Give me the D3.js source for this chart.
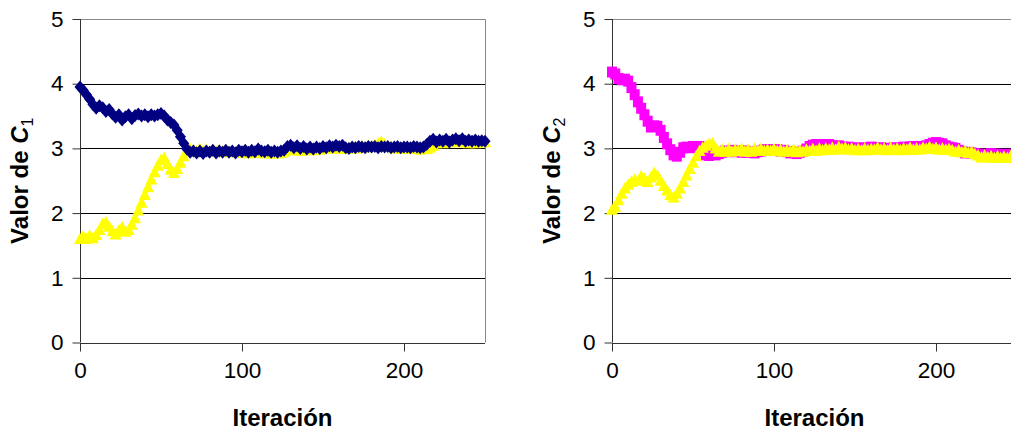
<!DOCTYPE html>
<html>
<head>
<meta charset="utf-8">
<script src="https://cdn.jsdelivr.net/npm/d3@7"></script>
<style>
  body { margin: 0; background: #fff; }
  text { font-family: "Liberation Sans", Arial, sans-serif; }
</style>
</head>
<body>
<div id="graph"></div>
<script>
var width = 1011, height = 430;

// iteraciones (cada 2)
var iters = d3.range(0, 251, 2);
var yTicks = [0, 1, 2, 3, 4, 5];
var xTicks = [0, 100, 200];

// C1 - azul (rombos)
var c1Azul = [
  3.95, 3.90, 3.83, 3.76, 3.68, 3.62, 3.66, 3.63, 3.57, 3.60,
  3.53, 3.48, 3.52, 3.44, 3.49, 3.52, 3.46, 3.51, 3.53, 3.50,
  3.52, 3.49, 3.52, 3.50, 3.52, 3.54, 3.50, 3.44, 3.40, 3.36,
  3.28, 3.18, 3.08, 2.99, 2.94, 2.96, 2.93, 2.96, 2.92, 2.96,
  2.94, 2.97, 2.93, 2.96, 2.94, 2.97, 2.94, 2.96, 2.93, 2.97,
  2.95, 2.97, 2.94, 2.97, 2.95, 2.99, 2.96, 2.95, 2.97, 2.94,
  2.96, 2.94, 2.96, 2.97, 3.03, 3.05, 3.01, 3.04, 3.00, 3.03,
  2.99, 3.02, 2.99, 3.02, 3.00, 3.03, 3.01, 3.04, 3.02, 3.05,
  3.03, 3.05, 3.01, 3.00, 3.02, 3.01, 3.03, 3.02, 3.01, 3.03,
  3.02, 3.03, 3.01, 3.03, 3.02, 3.03, 3.01, 3.02, 3.03, 3.01,
  3.02, 3.02, 3.01, 3.03, 3.02, 3.01, 3.02, 3.06, 3.11, 3.14,
  3.10, 3.13, 3.11, 3.14, 3.10, 3.13, 3.15, 3.12, 3.15, 3.11,
  3.13, 3.11, 3.13, 3.11, 3.12, 3.11
];
// C1 - amarillo (triangulos)
var c1Amarillo = [
  1.60, 1.64, 1.60, 1.65, 1.61, 1.66, 1.74, 1.83, 1.86, 1.79,
  1.72, 1.67, 1.73, 1.78, 1.71, 1.74, 1.82, 1.92, 2.04, 2.16,
  2.28, 2.40, 2.52, 2.63, 2.73, 2.82, 2.85, 2.76, 2.67, 2.62,
  2.68, 2.78, 2.88, 2.95, 2.99, 2.97, 2.95, 2.99, 2.96, 2.98,
  2.95, 2.98, 2.95, 2.97, 2.95, 2.97, 2.94, 2.96, 2.94, 2.96,
  2.93, 2.95, 2.92, 2.95, 2.93, 2.96, 2.93, 2.92, 2.94, 2.92,
  2.94, 2.92, 2.93, 2.95, 2.98, 3.00, 2.97, 2.99, 2.96, 2.99,
  2.97, 3.00, 2.97, 2.99, 2.98, 3.01, 2.99, 3.01, 2.99, 3.02,
  3.00, 3.02, 2.99, 3.01, 3.00, 3.02, 3.00, 3.03, 3.01, 3.04,
  3.02, 3.05, 3.07, 3.10, 3.06, 3.03, 3.02, 3.00, 3.01, 2.99,
  3.00, 2.99, 3.01, 2.99, 3.00, 2.98, 3.00, 2.99, 3.01, 3.04,
  3.08, 3.10, 3.08, 3.11, 3.09, 3.12, 3.10, 3.12, 3.09, 3.11,
  3.08, 3.10, 3.08, 3.11, 3.09, 3.10
];
// C2 - magenta (cuadrados)
var c2Magenta = [
  4.18, 4.15, 4.08, 4.06, 4.07, 4.04, 3.94, 3.83, 3.72, 3.62,
  3.52, 3.42, 3.33, 3.35, 3.34, 3.28, 3.17, 3.07, 2.98, 2.90,
  2.88, 2.94, 3.01, 3.02, 3.01, 3.03, 3.02, 3.03, 2.96, 2.90,
  2.89, 2.91, 2.90, 2.92, 2.94, 2.96, 2.95, 2.97, 2.95, 2.96,
  2.94, 2.96, 2.94, 2.95, 2.93, 2.95, 2.96, 2.98, 2.97, 2.98,
  2.97, 2.98, 2.96, 2.97, 2.95, 2.93, 2.94, 2.92, 2.94, 2.96,
  2.99, 3.03, 3.05, 3.06, 3.05, 3.06, 3.05, 3.06, 3.04, 3.03,
  3.04, 3.02, 3.01, 3.02, 3.00, 3.01, 3.00, 2.99, 3.01, 3.00,
  3.02, 3.01, 3.00, 3.01, 3.00, 2.99, 3.00, 3.01, 3.00, 3.01,
  3.02, 3.01, 3.02, 3.03, 3.02, 3.03, 3.02, 3.04, 3.06, 3.08,
  3.09, 3.08, 3.07, 3.04, 3.02, 3.01, 3.00, 2.97, 2.95, 2.93,
  2.94, 2.93, 2.92, 2.91, 2.90, 2.91, 2.90, 2.92, 2.91, 2.90,
  2.91, 2.89, 2.90, 2.91, 2.90, 2.91
];
// C2 - amarillo (triangulos)
var c2Amarillo = [
  2.05, 2.10, 2.20, 2.30, 2.38, 2.44, 2.48, 2.52, 2.50, 2.57,
  2.53, 2.48, 2.55, 2.62, 2.58, 2.50, 2.42, 2.35, 2.28, 2.24,
  2.30, 2.38, 2.48, 2.58, 2.68, 2.78, 2.88, 2.96, 3.01, 3.04,
  3.07, 3.08, 3.00, 2.95, 2.98, 2.95, 2.99, 2.95, 2.98, 2.96,
  2.99, 2.95, 2.98, 2.95, 2.99, 2.96, 2.99, 2.96, 2.98, 2.96,
  2.99, 2.96, 2.98, 2.95, 2.97, 2.95, 2.98, 2.94, 2.97, 2.95,
  2.98, 2.96, 2.99, 2.96, 3.00, 2.97, 3.00, 2.98, 3.01, 2.98,
  3.02, 2.99, 3.01, 2.98, 3.00, 2.97, 2.99, 2.97, 3.00, 2.97,
  2.99, 2.98, 3.01, 2.98, 3.00, 2.97, 3.01, 2.98, 3.00, 2.97,
  3.00, 2.98, 3.01, 2.98, 3.00, 2.98, 3.01, 2.99, 3.02, 2.99,
  3.01, 2.98, 3.00, 2.98, 2.99, 2.97, 2.95, 2.97, 2.94, 2.96,
  2.93, 2.95, 2.91, 2.89, 2.86, 2.89, 2.86, 2.88, 2.85, 2.88,
  2.85, 2.87, 2.85, 2.88, 2.85, 2.87
];

var diamond = "M0,-6.5L5.5,0L0,6.5L-5.5,0Z";
var triangle = "M0,-6.5L6,5L-6,5Z";
var square = "M-5,-5.5H5V5.5H-5Z";

var svg = d3.select('#graph').append('svg')
    .attr('width', width)
    .attr('height', height);

var panels = [
  { left: 80, sub: "1", series: [
      { vals: c1Amarillo, color: "#ffff00", shape: triangle },
      { vals: c1Azul, color: "#000080", shape: diamond } ] },
  { left: 612, sub: "2", series: [
      { vals: c2Magenta, color: "#ff00ff", shape: square },
      { vals: c2Amarillo, color: "#ffff00", shape: triangle } ] }
];

var pw = 405, plotTop = 19, plotBottom = 342.5;

panels.forEach(function(p) {
  var x = d3.scaleLinear().domain([0, 250]).range([p.left, p.left + pw]);
  var y = d3.scaleLinear().domain([0, 5]).range([plotBottom, plotTop]);
  var g = svg.append("g");

  // grid
  g.selectAll(".grid").data(yTicks.slice(1, 5))
    .enter().append("line")
      .attr("x1", x(0)).attr("x2", x(250))
      .attr("y1", function(d) { return Math.round(y(d)) + 0.5; })
      .attr("y2", function(d) { return Math.round(y(d)) + 0.5; })
      .attr("stroke", "#000");
  // border top/right
  g.append("path")
    .attr("d", "M" + x(0) + "," + (Math.round(plotTop) + 0.5) + "H" + (Math.round(x(250)) + 0.5) + "V" + plotBottom)
    .attr("fill", "none").attr("stroke", "#888");

  var yAxis = g.append("g")
    .attr("transform", "translate(" + (Math.round(x(0)) + 0.5) + ",0)")
    .call(d3.axisLeft(y).tickValues(yTicks).tickFormat(d3.format("d")).tickSize(8).tickPadding(9));
  var xAxis = g.append("g")
    .attr("transform", "translate(0," + (Math.round(plotBottom) + 0.5) + ")")
    .call(d3.axisBottom(x).tickValues(xTicks).tickFormat(d3.format("d")).tickSize(8).tickPadding(11));
  [yAxis, xAxis].forEach(function(a) {
    a.select(".domain").attr("stroke", "#333");
    a.selectAll(".tick line").attr("stroke", "#333");
    a.selectAll("text").attr("font-size", 22.5).attr("fill", "#000")
      .attr("font-family", "Liberation Sans, Arial, sans-serif");
  });
  xAxis.select(".domain").attr("d", "M" + x(0) + ",0H" + x(250));
  yAxis.select(".domain").attr("d", "M0," + y(5) + "V" + y(0));

  p.series.forEach(function(s) {
    var line = d3.line()
      .x(function(d, i) { return x(iters[i]); })
      .y(function(d) { return y(d); });
    g.append("path").datum(s.vals)
      .attr("d", line)
      .attr("fill", "none")
      .attr("stroke", s.color)
      .attr("stroke-width", 3);
    g.selectAll(null).data(s.vals)
      .enter().append("path")
        .attr("d", s.shape)
        .attr("transform", function(d, i) { return "translate(" + x(iters[i]) + "," + y(d) + ")"; })
        .attr("fill", s.color);
  });

  // axis titles
  g.append("text")
    .attr("x", x(125)).attr("y", 426)
    .attr("text-anchor", "middle")
    .attr("font-size", 24).attr("font-weight", "bold")
    .text("Iteración");

  var t = g.append("text")
    .attr("transform", "translate(" + (p.left - 52) + "," + ((plotTop + plotBottom) / 2) + ") rotate(-90)")
    .attr("text-anchor", "middle")
    .attr("font-size", 24).attr("font-weight", "bold");
  t.append("tspan").text("Valor de ");
  t.append("tspan").attr("font-style", "italic").text("C");
  t.append("tspan").attr("font-size", 16).attr("font-weight", "normal").attr("dy", 5).text(p.sub);
});
</script>
</body>
</html>
